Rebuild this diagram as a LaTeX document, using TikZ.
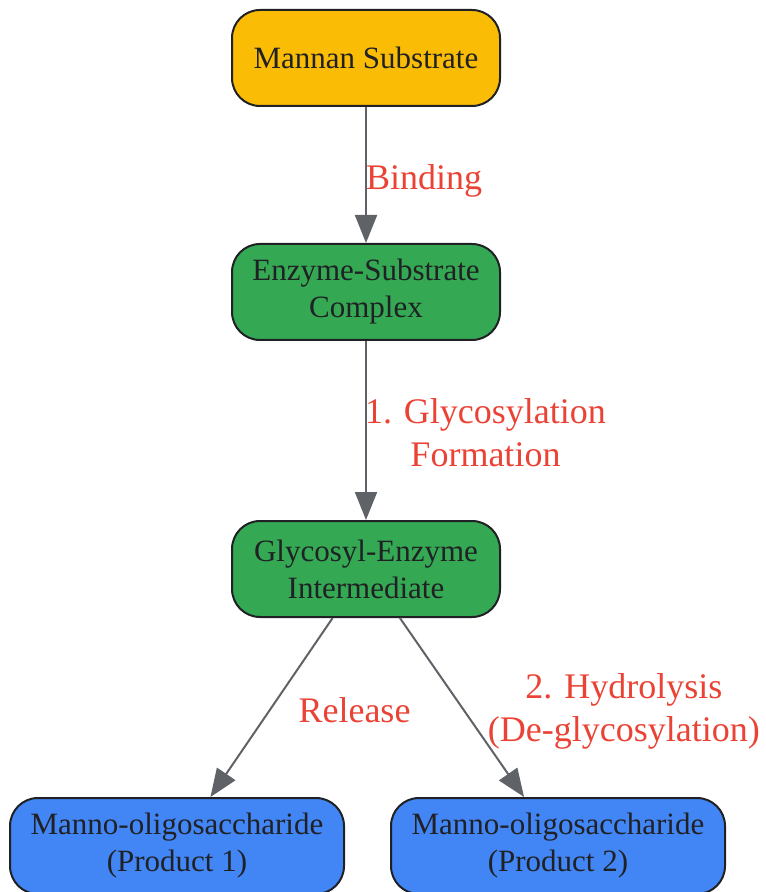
\documentclass[tikz,border=0pt]{standalone}
\usepackage{fontspec}
\setmainfont{Liberation Serif}
\usetikzlibrary{arrows.meta}

\definecolor{substrateyellow}{HTML}{FBBC05}
\definecolor{enzymegreen}{HTML}{34A853}
\definecolor{productblue}{HTML}{4285F4}
\definecolor{boxline}{HTML}{202124}
\definecolor{flowgray}{HTML}{5F6368}
\definecolor{tagred}{HTML}{EA4335}

\begin{document}
\begin{tikzpicture}[x=0.5pt, y=-0.5pt, % one unit = one pixel of the reference
	box/.style={draw=boxline, line width=1pt, rounded corners=14pt, text=boxline,
		minimum width=134pt, minimum height=48pt, align=center,
		font=\fontsize{15.5}{18.5}\selectfont},
	flow/.style={draw=flowgray, line width=1pt, -{Triangle[length=14pt, width=11pt]}},
	tag/.style={text=tagred, align=center, inner sep=0pt, font=\fontsize{18}{21.5}\selectfont}]
				
				% Page size
				\useasboundingbox (0,0) rectangle (765,892);
				
				% Steps of the reaction
				\node[box, fill=substrateyellow] (subst) at (366,58) {Mannan Substrate};
				\node[box, fill=enzymegreen] (complex) at (366,292) {Enzyme-Substrate\\Complex};
				\node[box, fill=enzymegreen] (inter) at (366,569) {Glycosyl-Enzyme\\Intermediate};
				
				% Products
				\node[box, fill=productblue, minimum width=167pt] (prodA) at (177,846) {Manno-oligosaccharide\\(Product 1)};
				\node[box, fill=productblue, minimum width=167pt] (prodB) at (558,846) {Manno-oligosaccharide\\(Product 2)};
				
				% Arrows with their labels
				\draw[flow] (subst) -- (complex) node[tag, midway, anchor=west, yshift=-3pt, xshift=-0.5pt] {Binding};
				\draw[flow] (complex) -- (inter) node[tag, midway, anchor=west, yshift=-1pt, xshift=-1pt] {1. Glycosylation\\Formation};
				\draw[flow] (inter) -- (prodA) node[tag, midway, anchor=west, xshift=13pt, yshift=-1.5pt] {Release};
				\draw[flow] (inter) -- (prodB) node[tag, midway, anchor=west, xshift=12.5pt, yshift=-2pt] {2. Hydrolysis\\(De-glycosylation)};
				
			\end{tikzpicture}
\end{document}
